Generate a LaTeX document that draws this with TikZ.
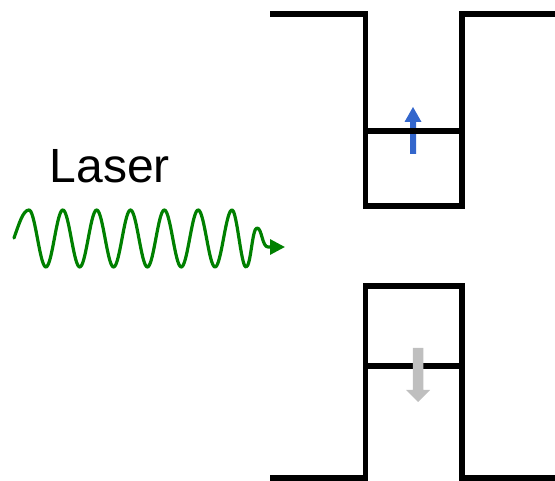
\documentclass[tikz,border=0pt]{standalone}
\usepackage{fontspec}
\setmainfont{Liberation Sans}
\usetikzlibrary{arrows.meta}
\definecolor{wavegreen}{RGB}{0,128,0}
\definecolor{spinblue}{RGB}{51,102,204}
\definecolor{spingray}{RGB}{191,191,191}
\tikzset{
  wellline/.style={line width=5.6pt, line join=miter, line cap=butt, black},
  wavestyle/.style={line width=3.2pt, wavegreen, line cap=round, line join=round},
}
\begin{document}
\begin{tikzpicture}[x=1pt,y=-1pt]
\useasboundingbox (0,0) rectangle (555,481);
% blue spin arrow (under the level line)
\fill[spinblue] (410,154) -- (416,154) -- (416,122) -- (421.5,122) -- (413,107) -- (404.5,122) -- (410,122) -- cycle;
% upper well
\draw[wellline] (270,13.8) -- (365.5,13.8) -- (365.5,206) -- (462,206) -- (462,13.8) -- (555,13.8);
\draw[wellline] (365.5,131) -- (462,131);
% lower well
\draw[wellline] (270,477.7) -- (365.5,477.7) -- (365.5,286) -- (462,286) -- (462,477.7) -- (555,477.7);
\draw[wellline] (365.5,366) -- (462,366);
% gray spin arrow (over the level line)
\fill[spingray] (412.8,348) -- (423.3,348) -- (423.3,390) -- (430,390) -- (418,402) -- (406,390) -- (412.8,390) -- cycle;
% label
\node[anchor=base west, inner sep=0pt, font=\fontsize{48}{56}\selectfont] (laser) at (49.5,183) {Laser};
% wave
\draw[wavestyle] (14,238) .. controls (19,224) and (23,210) .. (29,210)
  -- plot[domain=29:232, samples=240, smooth] (\x, {238.5 - 28.5*cos((\x-29)/33.83*360)})
  .. controls (237,210) and (241,267) .. (246,267)
  .. controls (251,267) and (252,228) .. (257,228)
  .. controls (262,228) and (262,247) .. (268,247)
  -- (272,247);
\draw[wavegreen, line width=3.2pt, -{Triangle[length=15pt,width=15pt]}] (270,247) -- (285,247);
\end{tikzpicture}
\end{document}
